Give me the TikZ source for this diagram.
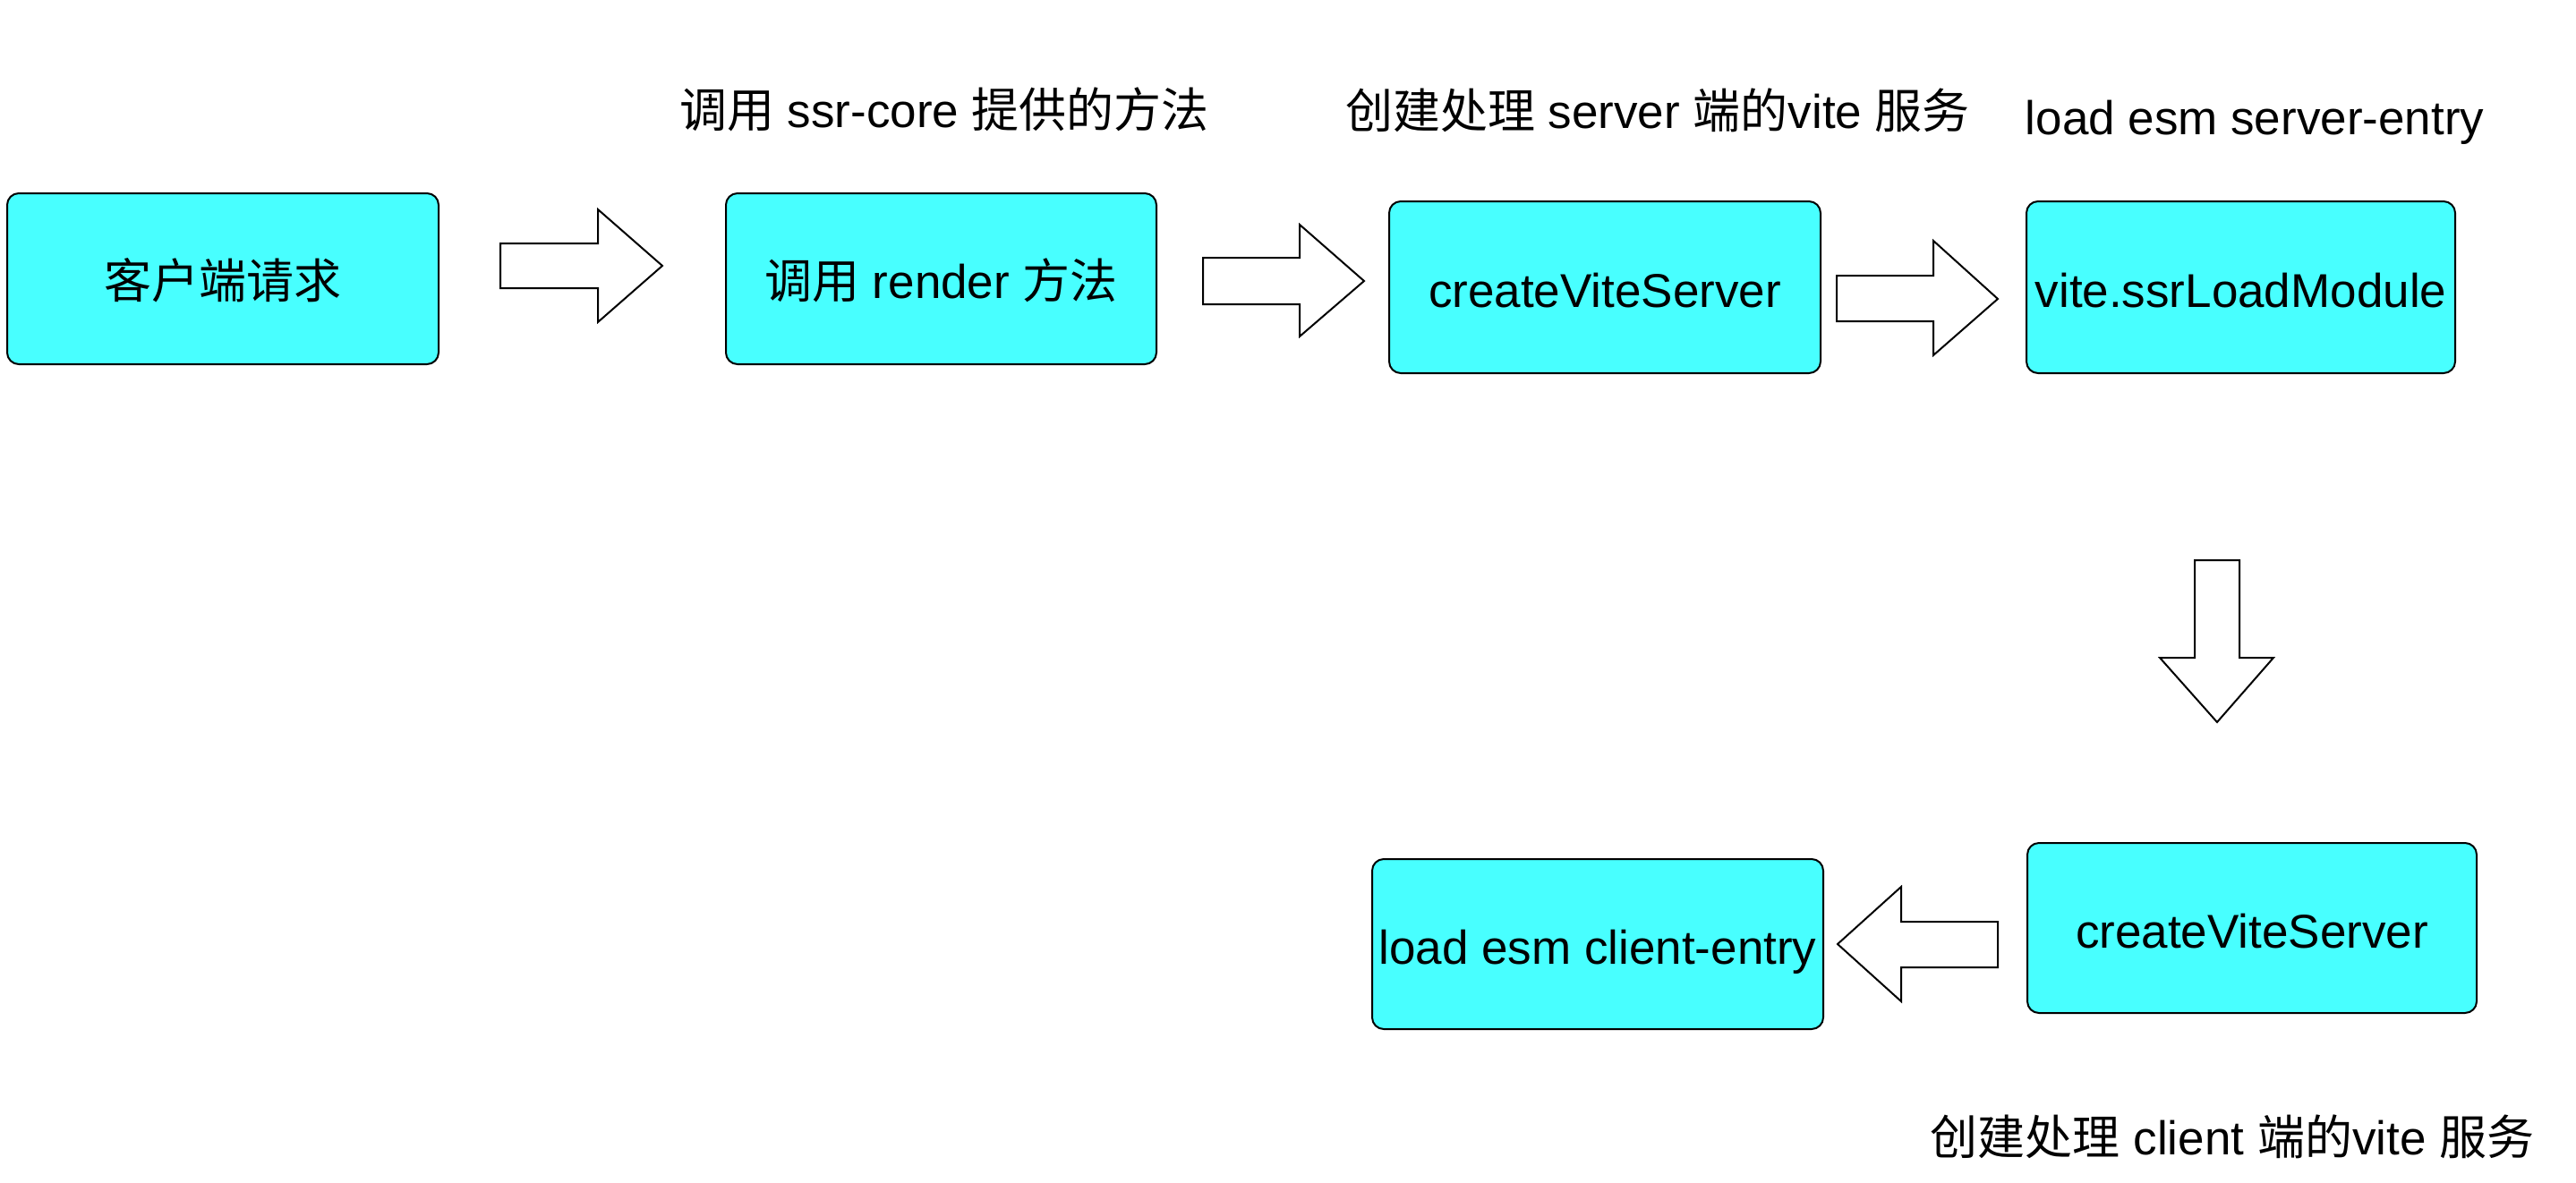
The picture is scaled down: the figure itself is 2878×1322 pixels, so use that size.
\documentclass[tikz,border=0pt]{standalone}
\usepackage{fontspec}
\setmainfont{Liberation Sans}
\newfontfamily\cjk{Noto Sans CJK SC}
\definecolor{boxcyan}{HTML}{48FFFF}
\begin{document}
\begin{tikzpicture}[x=1pt,y=-1pt,
  procbox/.style={draw=black, line width=2pt, fill=boxcyan, rounded corners=13pt,
    inner sep=0pt, text height=50pt, text depth=6pt,
    font=\fontsize{53}{64}\selectfont},
  toplabel/.style={anchor=base, inner sep=0pt, font=\fontsize{53}{64}\selectfont},
  blockarrow/.style={draw=black, line width=2pt, fill=white}]
\useasboundingbox (0,0) rectangle (2878,1322);

\node[procbox, minimum width=482pt, minimum height=191pt] (b1) at (249,311.5) {\cjk 客户端请求};
\node[procbox, minimum width=481pt, minimum height=191pt] (b2) at (1051.5,311.5) {{\cjk 调用} render {\cjk 方法}};
\node[procbox, minimum width=482pt, minimum height=192pt] (b3) at (1793,321) {createViteServer};
\node[procbox, minimum width=479pt, minimum height=192pt] (b4) at (2503.5,321) {vite.ssrLoadModule};
\node[procbox, minimum width=502pt, minimum height=190pt] (b5) at (2516,1037) {createViteServer};
\node[procbox, minimum width=504pt, minimum height=190pt] (b6) at (1785,1055) {load esm client-entry};

\node[toplabel] (l1) at (1055,142) {{\cjk 调用} ssr-core {\cjk 提供的方法}};
\node[toplabel] (l2) at (1852,143) {{\cjk 创建处理} server {\cjk 端的}vite {\cjk 服务}};
\node[toplabel] (l3) at (2519,150) {load esm server-entry};
\node[toplabel] (l4) at (2494,1290) {{\cjk 创建处理} client {\cjk 端的}vite {\cjk 服务}};

\draw[blockarrow] (559,272) -- (668,272) -- (668,234) -- (740,297) -- (668,360) -- (668,322) -- (559,322) -- cycle;
\draw[blockarrow] (1344,288) -- (1452,288) -- (1452,251) -- (1524,314) -- (1452,376) -- (1452,340) -- (1344,340) -- cycle;
\draw[blockarrow] (2052,308) -- (2160,308) -- (2160,269) -- (2232,334) -- (2160,397) -- (2160,359) -- (2052,359) -- cycle;
\draw[blockarrow] (2452,626) -- (2502,626) -- (2502,735) -- (2540,735) -- (2477,807) -- (2413,735) -- (2452,735) -- cycle;
\draw[blockarrow] (2232,1030) -- (2124,1030) -- (2124,991) -- (2053,1055) -- (2124,1119) -- (2124,1081) -- (2232,1081) -- cycle;
\end{tikzpicture}
\end{document}
